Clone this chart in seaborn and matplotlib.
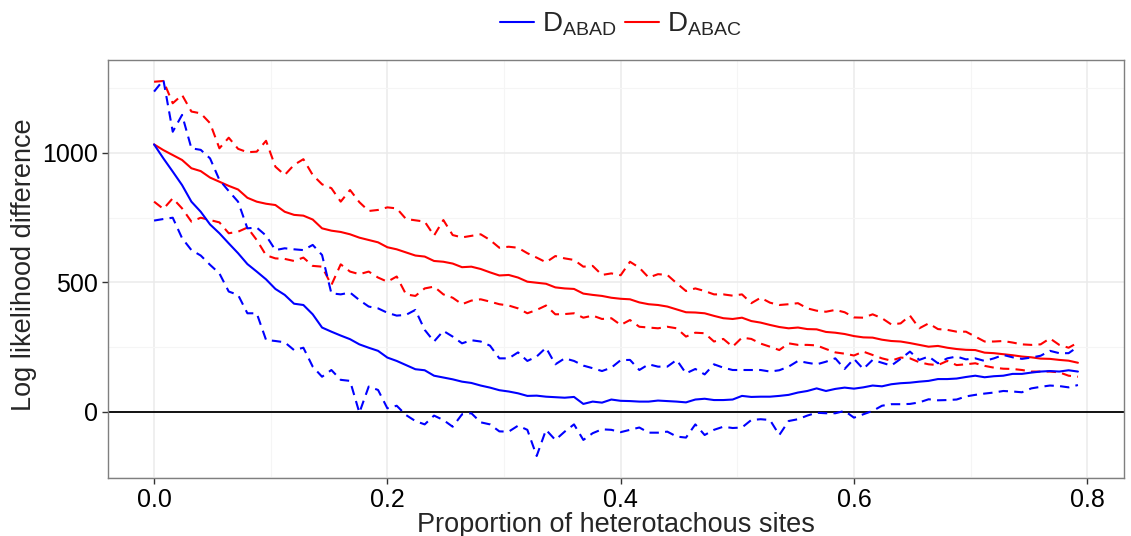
import numpy as np
import pandas as pd
import matplotlib
matplotlib.use("Agg")
import matplotlib.pyplot as plt
from matplotlib.lines import Line2D
from matplotlib.ticker import MultipleLocator
import seaborn as sns

# Proportion of heterotachous sites (step 0.008)
prop = [round(0.008 * k, 3) for k in range(100)]

abad_mean = [1033, 979, 928, 876, 812, 773, 724, 690, 651, 613, 571, 542, 512,
             475, 452, 418, 413, 377, 326, 310, 295, 281, 261, 248, 236, 210,
             197, 181, 165, 161, 140, 133, 126, 117, 112, 102, 94, 84,
             79, 72, 62, 63, 59, 57, 55, 58, 31, 40, 36, 48, 43,
             42, 40, 40, 44, 42, 40, 37, 48, 51, 46, 46, 48,
             62, 58, 59, 59, 62, 66, 75, 81, 91, 81, 89, 94, 90,
             95, 102, 99, 107, 111, 113, 117, 120, 127, 127, 129, 135,
             140, 134, 138, 140, 147, 147, 152, 156, 158, 156, 161, 156]

abad_upper = [1237, 1282, 1082, 1147, 1018, 1012, 979, 896, 853, 812, 709, 712, 681,
              625, 632, 628, 625, 645, 606, 458, 454, 461, 432, 407, 400, 383,
              372, 375, 394, 317, 272, 313, 291, 265, 277, 272, 256, 207,
              207, 230, 197, 214, 248, 184, 207, 197, 179, 169, 158, 171, 200,
              201, 162, 184, 175, 175, 201, 149, 166, 145, 184, 171, 162,
              162, 162, 162, 156, 161, 175, 197, 190, 184, 194, 207, 166, 205,
              166, 201, 190, 179, 205, 233, 201, 214, 188, 207, 214, 203,
              207, 197, 207, 220, 211, 205, 210, 217, 236, 227, 227, 252]

abad_lower = [739, 745, 750, 671, 625, 604, 568, 535, 465, 452, 381, 381, 278,
              274, 269, 239, 248, 175, 136, 162, 124, 120, -3, 98, 85, 14,
              24, -12, -35, -48, -14, -31, -57, -9, -5, -40, -48, -75,
              -76, -53, -69, -170, -69, -108, -76, -48, -108, -82, -67, -69, -78,
              -69, -60, -80, -80, -76, -95, -99, -48, -89, -69, -57, -62,
              -60, -31, -28, -31, -89, -35, -28, -14, -3, -5, -5, 4, -22,
              -9, 4, 24, 30, 30, 31, 37, 49, 45, 46, 48, 60,
              66, 71, 75, 81, 79, 76, 91, 97, 102, 100, 95, 104]

abac_mean = [1033, 1011, 992, 973, 941, 930, 905, 889, 873, 859, 827, 812, 804,
             799, 773, 761, 758, 743, 709, 700, 695, 686, 673, 664, 655, 636,
             628, 616, 604, 600, 583, 580, 573, 559, 561, 552, 539, 527,
             529, 519, 503, 499, 495, 481, 477, 475, 457, 452, 448, 441, 437,
             435, 423, 416, 413, 407, 396, 385, 384, 381, 371, 362, 359,
             364, 351, 345, 336, 328, 323, 326, 320, 319, 309, 306, 301, 293,
             288, 287, 279, 274, 272, 266, 259, 252, 255, 248, 243, 240,
             239, 229, 227, 223, 219, 214, 211, 206, 205, 201, 198, 190]

abac_upper = [1275, 1278, 1192, 1224, 1160, 1153, 1115, 1018, 1059, 1016, 1003, 1005, 1047,
              947, 915, 954, 976, 915, 879, 864, 812, 857, 810, 776, 780, 790,
              786, 745, 740, 735, 681, 741, 683, 674, 680, 686, 664, 634,
              638, 634, 613, 596, 578, 602, 593, 587, 561, 564, 529, 535, 528,
              580, 557, 519, 532, 529, 497, 467, 477, 467, 454, 454, 449,
              454, 420, 441, 422, 413, 416, 420, 400, 391, 387, 394, 385, 365,
              364, 377, 362, 338, 342, 372, 323, 342, 320, 317, 310, 310,
              291, 272, 272, 274, 268, 261, 259, 261, 284, 259, 248, 268]

abac_lower = [812, 784, 825, 786, 735, 750, 741, 732, 690, 696, 712, 664, 605,
              593, 591, 583, 596, 564, 561, 490, 570, 542, 532, 542, 519, 503,
              523, 454, 448, 477, 484, 454, 441, 416, 430, 435, 426, 416,
              411, 400, 381, 394, 411, 377, 378, 381, 364, 372, 359, 362, 336,
              355, 329, 326, 323, 329, 323, 291, 306, 304, 272, 282, 252,
              287, 282, 264, 252, 239, 265, 259, 259, 257, 243, 230, 225, 218,
              233, 220, 207, 198, 210, 207, 192, 184, 181, 197, 181, 184,
              188, 178, 171, 167, 166, 162, 156, 156, 156, 153, 140, 136]

colors = {"ABAD": "#0000FF", "ABAC": "#FF0000"}

frames = []
for name, mean, up, lo in [("ABAD", abad_mean, abad_upper, abad_lower),
                           ("ABAC", abac_mean, abac_upper, abac_lower)]:
    for stat, vals in [("mean", mean), ("upper", up), ("lower", lo)]:
        frames.append(pd.DataFrame({"prop": prop, "value": vals,
                                    "series": name, "stat": stat}))
df = pd.concat(frames, ignore_index=True)

sns.set_theme(style="white")
plt.rcParams["font.family"] = ["Liberation Sans", "DejaVu Sans"]
plt.rcParams["mathtext.fontset"] = "custom"
plt.rcParams["mathtext.rm"] = "Liberation Sans"

fig = plt.figure(figsize=(11.31, 5.36), dpi=100)
ax = fig.add_axes([108 / 1131, 1 - 478 / 536, (1124 - 108) / 1131, (478 - 60) / 536])

# grid (theme_bw style)
ax.set_axisbelow(True)
ax.xaxis.set_major_locator(MultipleLocator(0.2))
ax.xaxis.set_minor_locator(MultipleLocator(0.1))
ax.yaxis.set_major_locator(MultipleLocator(500))
ax.yaxis.set_minor_locator(MultipleLocator(250))
ax.grid(which="major", color="#ebebeb", linewidth=1.1)
ax.grid(which="minor", color="#f5f5f5", linewidth=0.8)

ax.axhline(0, color="black", linewidth=1.3, zorder=1.5)

dash = (4.5, 3)
for name in ["ABAC", "ABAD"]:
    sub = df[df["series"] == name]
    for stat in ["upper", "lower", "mean"]:
        part = sub[sub["stat"] == stat]
        sns.lineplot(data=part, x="prop", y="value", ax=ax, color=colors[name],
                     linewidth=1.5, estimator=None, legend=False)
        if stat != "mean":
            ax.lines[-1].set_dashes(dash)

ax.set_xlim(-0.0395, 0.8315)
ax.set_ylim(-255, 1359)

for sp in ax.spines.values():
    sp.set_color("#7f7f7f")
    sp.set_linewidth(1.0)

ax.tick_params(axis="both", which="major", length=4, width=1, color="#333333",
               labelsize=18, labelcolor="black", direction="out", pad=3,
               bottom=True, left=True)
ax.tick_params(axis="both", which="minor", length=0)
ax.set_xticks([0.0, 0.2, 0.4, 0.6, 0.8])
ax.set_xticklabels(["0.0", "0.2", "0.4", "0.6", "0.8"])
ax.set_yticks([0, 500, 1000])
ax.set_yticklabels(["0", "500", "1000"])

ax.set_xlabel("Proportion of heterotachous sites", fontsize=19.5, labelpad=0)
ax.set_ylabel("Log likelihood difference", fontsize=19.5)
ax.yaxis.set_label_coords(-0.07, 0.51)

handles = [Line2D([], [], color=colors["ABAD"], linewidth=1.5),
           Line2D([], [], color=colors["ABAC"], linewidth=1.5)]
labels = [r"$\mathregular{D_{ABAD}}$", r"$\mathregular{D_{ABAC}}$"]
fig.legend(handles, labels, loc="center", bbox_to_anchor=(0.549, 0.955), ncol=2,
           frameon=False, fontsize=20, handlelength=1.22, handletextpad=0.29,
           columnspacing=0.32, borderpad=0.2)

fig.savefig("out.png", dpi=100)
